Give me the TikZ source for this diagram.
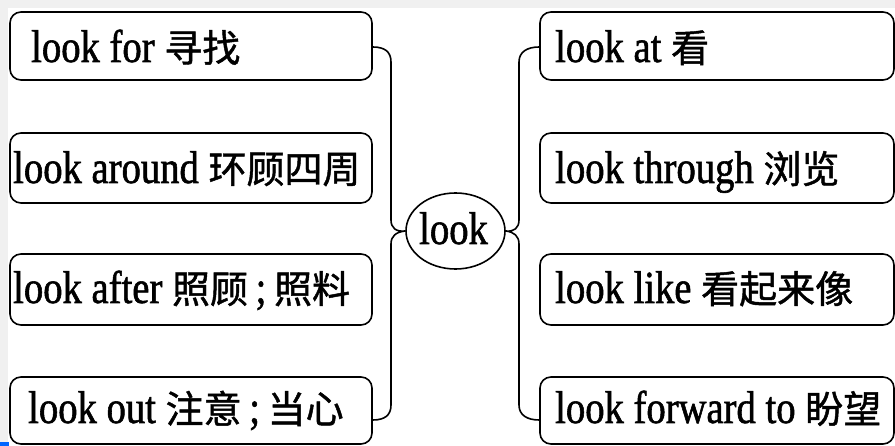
\documentclass[tikz,border=0pt]{standalone}
\usepackage{fontspec}
\usetikzlibrary{shapes.geometric}
\setmainfont[FakeStretch=0.84,FakeBold=1.2]{Liberation Serif}
\newfontfamily\cjk[FakeBold=1.2]{Noto Sans CJK SC}
\newcommand{\zh}[1]{{\cjk\fontsize{38}{38}\selectfont #1}}
\begin{document}
\begin{tikzpicture}[x=1pt,y=-1pt,
  lbox/.style={draw=black,line width=1.6pt,rounded corners=11pt,minimum width=362pt,inner sep=0pt},
  rbox/.style={draw=black,line width=1.6pt,rounded corners=11pt,minimum width=354pt,inner sep=0pt},
  lbl/.style={anchor=base west,inner sep=0pt,font=\fontsize{46}{46}\selectfont},
  brace/.style={draw=black,line width=1.6pt}]
\useasboundingbox (0,0) rectangle (895,446);
\fill[black!6] (0,0) rectangle (895,446);
\fill[white] (8,8) rectangle (895,446);
\fill[blue!60!cyan] (0,442) rectangle (9,446);
% left boxes
\node[lbox,minimum height=68pt] (b1) at (191,46) {};
\node[lbox,minimum height=70pt] (b2) at (191,168) {};
\node[lbox,minimum height=71pt] (b3) at (191,289.5) {};
\node[lbox,minimum height=67pt] (b4) at (191,410.5) {};
% right boxes
\node[rbox,minimum height=68pt] (b5) at (717,46) {};
\node[rbox,minimum height=70pt] (b6) at (717,168) {};
\node[rbox,minimum height=71pt] (b7) at (717,289.5) {};
\node[rbox,minimum height=67pt] (b8) at (717,410.5) {};
\node[lbl] (t1) at (31,62) {look for \zh{寻找}};
\node[lbl] (t2) at (13,183) {look around \zh{环顾四周}};
\node[lbl] (t3) at (13,303) {look after \zh{照顾}\,;\,\zh{照料}};
\node[lbl] (t4) at (28,423) {look out \zh{注意}\,;\,\zh{当心}};
\node[lbl] (t5) at (555,62) {look at \zh{看}};
\node[lbl] (t6) at (555,183) {look through \zh{浏览}};
\node[lbl] (t7) at (555,303) {look like \zh{看起来像}};
\node[lbl] (t8) at (555,423) {look forward to \zh{盼望}};
% center
\node[draw=black,line width=1.6pt,ellipse,minimum width=99pt,minimum height=76pt,inner sep=0pt] (c) at (455.5,231) {};
\node[lbl] (ct) at (419,244) {look};
% left brace
\draw[brace] (b1.east |- 0,47) .. controls (385,47) and (391,52) .. (391,62)
  -- (391,220) .. controls (391,228) and (396,232) .. (c.west)
  (c.west) .. controls (396,232) and (391,236) .. (391,244)
  -- (391,405) .. controls (391,415) and (385,420) .. (b4.east |- 0,420);
% right brace
\draw[brace] (b5.west |- 0,47) .. controls (527,47) and (519,52) .. (519,62)
  -- (519,220) .. controls (519,228) and (514,232) .. (c.east)
  (c.east) .. controls (514,232) and (519,236) .. (519,244)
  -- (519,405) .. controls (519,415) and (527,420) .. (b8.west |- 0,420);
\end{tikzpicture}
\end{document}
